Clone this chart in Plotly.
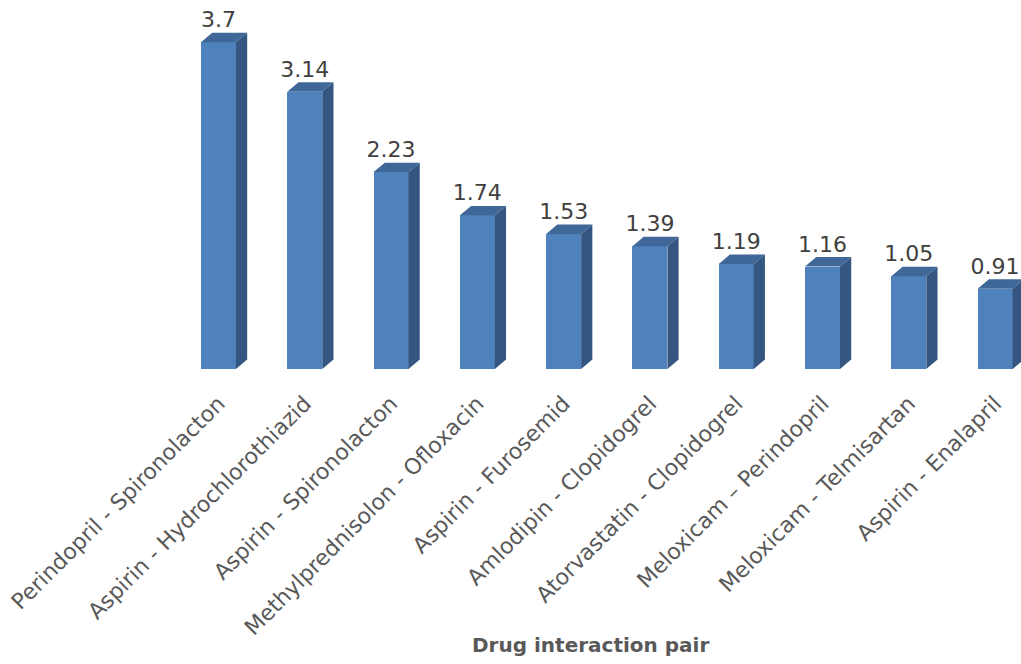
import plotly.graph_objects as go

categories = ["Perindopril - Spironolacton", "Aspirin - Hydrochlorothiazid", "Aspirin - Spironolacton",
              "Methylprednisolon - Ofloxacin", "Aspirin - Furosemid", "Amlodipin - Clopidogrel",
              "Atorvastatin - Clopidogrel", "Meloxicam \u2013 Perindopril", "Meloxicam - Telmisartan",
              "Aspirin - Enalapril"]
values = [3.7, 3.14, 2.23, 1.74, 1.53, 1.39, 1.19, 1.16, 1.05, 0.91]
value_labels = ["3.7", "3.14", "2.23", "1.74", "1.53", "1.39", "1.19", "1.16", "1.05", "0.91"]

FRONT = "#4F81BD"
TOP = "#3F6797"
SIDE = "#345680"
TXT = "#595959"
FONT = "DejaVu Sans"

W = 0.405       # front face width (category units)
DX = 0.13       # depth offset x (category units)
DY = 0.107      # depth offset y (value units)

xs = list(range(len(categories)))
fig = go.Figure()

for i, v in zip(xs, values):
    r = i + W / 2
    fig.add_trace(go.Scatter(x=[r, r + DX, r + DX, r, r], y=[0, DY, v + DY, v, 0],
                             fill="toself", fillcolor=SIDE, mode="lines",
                             line=dict(width=0, color=SIDE), hoverinfo="skip", showlegend=False))
    l = i - W / 2
    fig.add_trace(go.Scatter(x=[l, r, r + DX, l + DX, l], y=[v, v, v + DY, v + DY, v],
                             fill="toself", fillcolor=TOP, mode="lines",
                             line=dict(width=0, color=TOP), hoverinfo="skip", showlegend=False))

fig.add_trace(go.Bar(x=xs, y=values, width=W, marker=dict(color=FRONT, line=dict(width=0)),
                     showlegend=False, hoverinfo="skip"))

fig.add_trace(go.Scatter(x=xs, y=[v + DY for v in values], mode="text", text=value_labels,
                         textposition="top center", textfont=dict(family=FONT, size=22, color="#404040"),
                         showlegend=False, hoverinfo="skip"))

fig.add_annotation(text="<b>Drug interaction pair</b>", xref="paper", yref="paper",
                   x=590 / 1021, y=(369 - 645) / 369, xanchor="center", yanchor="middle",
                   showarrow=False, font=dict(family=FONT, size=20, color=TXT))

fig.update_layout(
    width=1021, height=664, margin=dict(l=0, r=0, t=0, b=295),
    paper_bgcolor="white", plot_bgcolor="white",
    xaxis=dict(range=[-2.532, 9.30], tickmode="array", tickvals=xs, ticktext=categories,
               tickangle=-45, tickfont=dict(family=FONT, size=22, color=TXT),
               showgrid=False, zeroline=False, showline=False, ticks="outside",
               ticklen=12, tickcolor="rgba(0,0,0,0)", automargin=False),
    yaxis=dict(range=[0, 369 / 88.3], visible=False, showgrid=False, zeroline=False),
    bargap=0,
)

fig.write_html("out.html")
